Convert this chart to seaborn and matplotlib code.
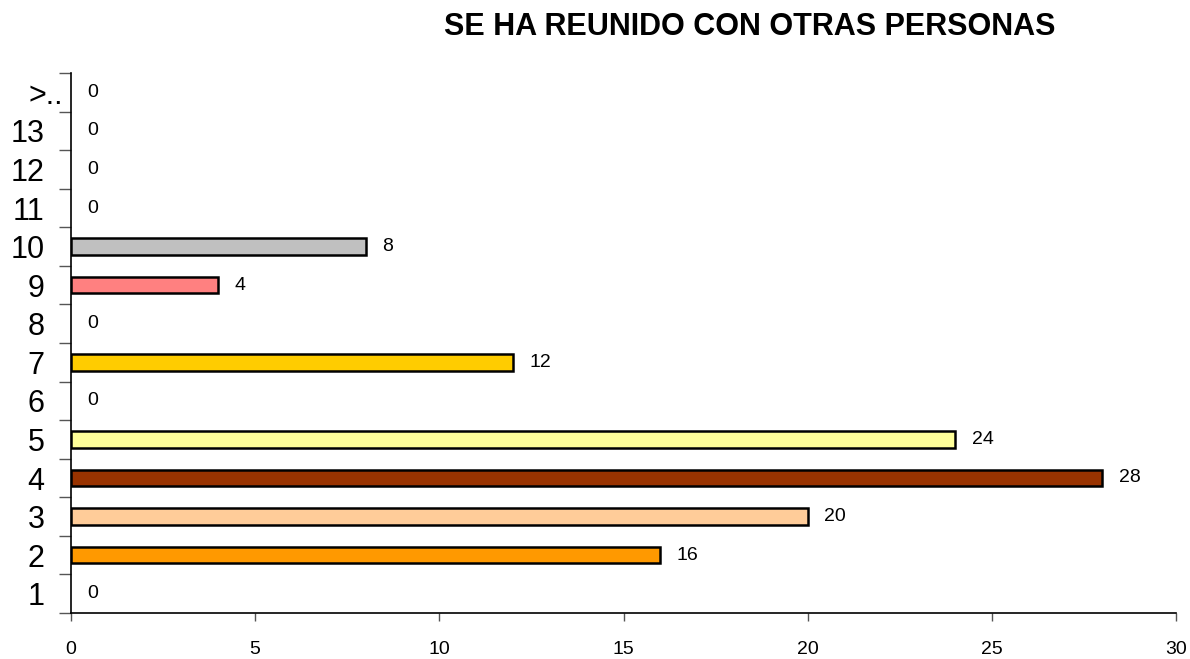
import matplotlib
matplotlib.use("Agg")
import matplotlib.pyplot as plt
import matplotlib.transforms as mtransforms
import seaborn as sns
import pandas as pd
import numpy as np

categories = ["1", "2", "3", "4", "5", "6", "7", "8", "9", "10", "11", "12", "13", ">.."]
values = [0, 16, 20, 28, 24, 0, 12, 0, 4, 8, 0, 0, 0, 0]
colors = ["#9999FF", "#FF9900", "#FFCC99", "#993300", "#FFFF99", "#CCFFFF", "#FFCC00",
          "#CCCCFF", "#FF8080", "#C0C0C0", "#99CCFF", "#CC99FF", "#FFCC99", "#99CC00"]
title = "SE HA REUNIDO CON OTRAS PERSONAS"
xticks = [0, 5, 10, 15, 20, 25, 30]

sns.set_style("white")
plt.rcParams['font.family'] = ['Liberation Sans', 'DejaVu Sans']
plt.rcParams['text.color'] = 'black'
plt.rcParams['xtick.color'] = 'black'
plt.rcParams['ytick.color'] = 'black'

df = pd.DataFrame({"cat": categories, "val": values})
order = categories[::-1]
palette = dict(zip(categories, colors))

fig = plt.figure(figsize=(11.9, 6.59), dpi=100)
ax = fig.add_axes([71/1190, 46/659, (1176-71)/1190, (613-73)/659])

sns.barplot(data=df, x="val", y="cat", hue="cat", order=order, hue_order=categories,
            palette=palette, orient="h", width=0.43, edgecolor="black", linewidth=1.8,
            saturation=1, legend=False, ax=ax)

for p in ax.patches:
    if p.get_width() == 0:
        p.set_visible(False)

ax.set_xlim(0, 30)
ax.set_ylim(len(categories) - 0.5, -0.5)
ax.set_xlabel("")
ax.set_ylabel("")

for i, c in enumerate(order):
    v = values[categories.index(c)]
    ax.text(v + 0.45, i, str(v), va="center", ha="left", fontsize=14, color="black")

ax.set_xticks(xticks)
ax.set_xticklabels([str(t) for t in xticks], fontsize=14)
ax.tick_params(axis="x", direction="out", length=6, width=1, color="#555555",
               labelcolor="black", pad=14, bottom=True)

ax.set_yticks(range(len(order)))
ax.set_yticklabels(order, fontsize=22)
ax.tick_params(axis="y", which="major", length=0, pad=19, left=False, labelcolor="black")
ax.set_yticks(np.arange(-0.5, len(order), 1.0), minor=True)
ax.tick_params(axis="y", which="minor", direction="out", length=9, width=1, color="#555555", left=True)

# the truncated top label sits further right in the original
shift = mtransforms.ScaledTranslation(18/100, 0, fig.dpi_scale_trans)
for lab in ax.get_yticklabels():
    if lab.get_text() == ">..":
        lab.set_transform(lab.get_transform() + shift)

for s in ["top", "right"]:
    ax.spines[s].set_visible(False)
for s in ["left", "bottom"]:
    ax.spines[s].set_color("black")
    ax.spines[s].set_linewidth(1.2)

fig.text(750/1190, 1 - 27/659, title, ha="center", va="center", fontsize=22,
         fontweight="bold", color="black")

fig.savefig("out.png", dpi=100)
